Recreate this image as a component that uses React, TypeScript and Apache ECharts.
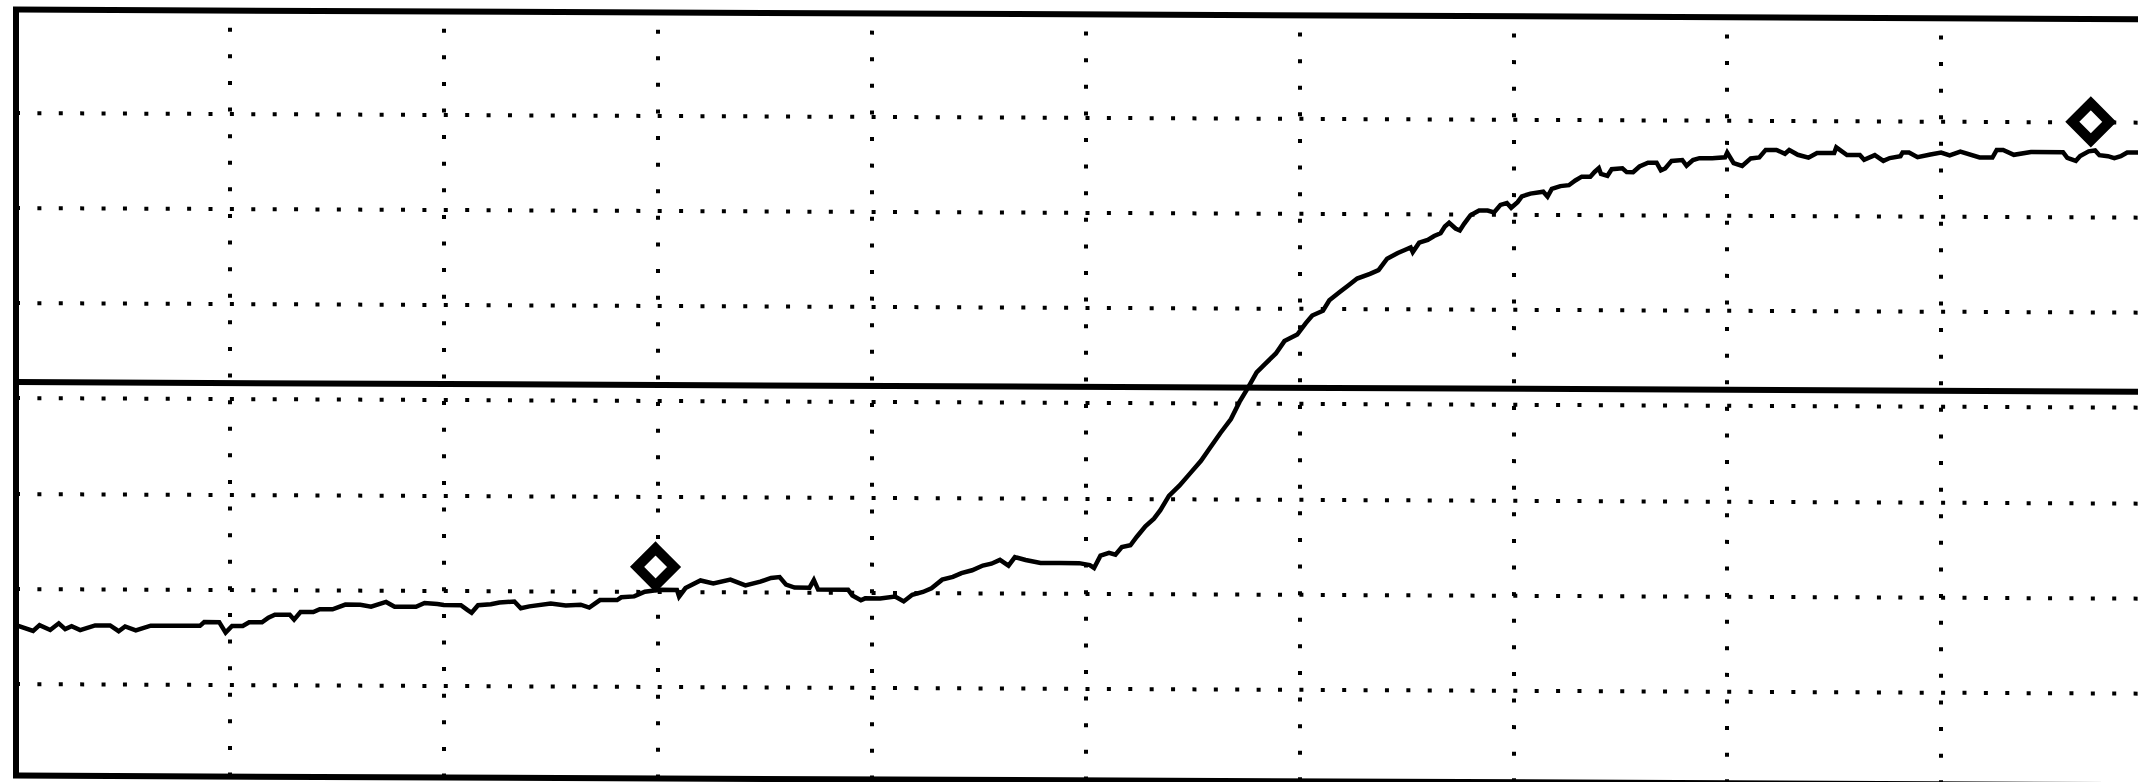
import React, { useEffect, useRef } from "react";
import * as echarts from "echarts";

// Time in screen divisions, level in vertical divisions (dotted grid lines at integers)
const traceTime = [
  0.0, 0.08, 0.11, 0.16, 0.2, 0.23, 0.26, 0.3, 0.37, 0.44, 0.48, 0.51, 0.56, 0.63, 0.86, 0.88, 0.95, 0.98,
  1.01, 1.06, 1.09, 1.15, 1.18, 1.21, 1.28, 1.3, 1.33, 1.39, 1.42, 1.48, 1.54, 1.61, 1.66, 1.73, 1.77,
  1.87, 1.91, 1.97, 2.0, 2.08, 2.11, 2.13, 2.16, 2.22, 2.26, 2.33, 2.36, 2.4, 2.5, 2.57, 2.64, 2.68,
  2.73, 2.81, 2.83, 2.89, 2.94, 3.01, 3.09, 3.1, 3.13, 3.2, 3.26, 3.34, 3.41, 3.48, 3.53, 3.57, 3.6,
  3.64, 3.71, 3.73, 3.75, 3.89, 3.91, 3.95, 3.97, 4.04, 4.11, 4.15, 4.19, 4.24, 4.28, 4.33, 4.38, 4.42,
  4.47, 4.52, 4.56, 4.6, 4.64, 4.67, 4.72, 4.79, 4.88, 4.97, 5.02, 5.04, 5.07, 5.11, 5.14, 5.17, 5.21,
  5.24, 5.28, 5.32, 5.35, 5.39, 5.44, 5.49, 5.54, 5.58, 5.63, 5.68, 5.72, 5.76, 5.8, 5.84, 5.89, 5.93,
  5.99, 6.03, 6.06, 6.11, 6.14, 6.19, 6.23, 6.27, 6.33, 6.37, 6.41, 6.46, 6.49, 6.52, 6.53, 6.56, 6.6,
  6.63, 6.66, 6.68, 6.7, 6.73, 6.75, 6.77, 6.8, 6.84, 6.88, 6.91, 6.94, 6.97, 6.99, 7.02, 7.04, 7.08,
  7.14, 7.16, 7.18, 7.22, 7.26, 7.29, 7.32, 7.36, 7.38, 7.4, 7.41, 7.44, 7.46, 7.51, 7.53, 7.56, 7.59,
  7.63, 7.67, 7.69, 7.71, 7.74, 7.79, 7.81, 7.84, 7.87, 7.93, 7.99, 8.0, 8.03, 8.07, 8.11, 8.15, 8.18,
  8.23, 8.27, 8.29, 8.33, 8.38, 8.42, 8.5, 8.51, 8.56, 8.62, 8.64, 8.69, 8.73, 8.76, 8.81, 8.82, 8.85,
  8.89, 8.95, 9.0, 9.04, 9.09, 9.18, 9.24, 9.26, 9.29, 9.34, 9.42, 9.57, 9.59, 9.63, 9.65, 9.69, 9.72,
  9.74, 9.78, 9.81, 9.84, 9.87, 9.92, 10.0,
];
const traceLevel = [
  -2.38, -2.44, -2.38, -2.43, -2.36, -2.42, -2.39, -2.43, -2.38, -2.38, -2.44, -2.39, -2.43, -2.38, -2.38,
  -2.34, -2.34, -2.45, -2.38, -2.38, -2.34, -2.34, -2.29, -2.26, -2.26, -2.31, -2.23, -2.23, -2.2, -2.2,
  -2.15, -2.15, -2.17, -2.12, -2.17, -2.17, -2.13, -2.14, -2.15, -2.15, -2.2, -2.23, -2.15, -2.14, -2.12,
  -2.11, -2.18, -2.16, -2.13, -2.15, -2.14, -2.17, -2.09, -2.09, -2.06, -2.05, -2.0, -1.98, -1.98, -2.05,
  -1.96, -1.88, -1.91, -1.87, -1.93, -1.89, -1.85, -1.84, -1.92, -1.95, -1.95, -1.87, -1.97, -1.97, -2.03,
  -2.08, -2.06, -2.06, -2.04, -2.09, -2.02, -1.99, -1.95, -1.86, -1.83, -1.79, -1.76, -1.71, -1.69, -1.65,
  -1.71, -1.62, -1.65, -1.68, -1.68, -1.68, -1.7, -1.73, -1.6, -1.57, -1.59, -1.51, -1.49, -1.4, -1.29,
  -1.21, -1.12, -0.97, -0.86, -0.73, -0.6, -0.47, -0.31, -0.16, 0.02, 0.17, 0.33, 0.42, 0.53, 0.66, 0.73,
  0.85, 0.93, 0.98, 1.09, 1.18, 1.25, 1.32, 1.37, 1.41, 1.53, 1.59, 1.62, 1.65, 1.6, 1.7, 1.73, 1.77, 1.8,
  1.87, 1.91, 1.85, 1.83, 1.9, 1.99, 2.04, 2.04, 2.02, 2.1, 2.12, 2.07, 2.13, 2.19, 2.22, 2.24, 2.19, 2.27,
  2.3, 2.31, 2.36, 2.4, 2.4, 2.45, 2.49, 2.43, 2.41, 2.48, 2.49, 2.45, 2.45, 2.51, 2.55, 2.55, 2.47, 2.49,
  2.57, 2.58, 2.52, 2.58, 2.6, 2.6, 2.61, 2.66, 2.55, 2.52, 2.6, 2.61, 2.69, 2.69, 2.65, 2.69, 2.64, 2.61,
  2.66, 2.66, 2.72, 2.64, 2.64, 2.59, 2.64, 2.58, 2.61, 2.63, 2.67, 2.67, 2.62, 2.65, 2.67, 2.64, 2.68,
  2.62, 2.62, 2.7, 2.7, 2.65, 2.68, 2.68, 2.62, 2.59, 2.64, 2.69, 2.7, 2.65, 2.64, 2.62, 2.64, 2.68, 2.68,
  2.68,
];
const markerTime = [2.99, 9.7];
const markerLevel = [-1.74, 3.0];
const gridTimes = [1, 2, 3, 4, 5, 6, 7, 8, 9];
const gridLevels = [-3, -2, -1, 0, 1, 2, 3];
const referenceLevel = 0.17;
const timeRange = [0, 10];
const levelRange = [-3.96, 4.08];

export default function App() {
  const ref = useRef<HTMLDivElement>(null);

  useEffect(() => {
    if (!ref.current) return;
    const chart = echarts.init(ref.current, undefined, { renderer: "svg" });
    const hDots = { color: "#000", width: 4, type: [4, 17.39], cap: "butt" };
    const vDots = { color: "#000", width: 4, type: [4, 22.6], cap: "butt" };
    const markLineData: any[] = [
      ...gridLevels.map((v) => ({ yAxis: v, lineStyle: hDots })),
      ...gridTimes.map((t) => ({ xAxis: t, lineStyle: vDots })),
      { yAxis: referenceLevel, lineStyle: { color: "#000", width: 6, type: "solid" } },
    ];
    chart.setOption({
      animation: false,
      backgroundColor: "#fff",
      grid: {
        left: 16,
        top: 9.5,
        width: 2139,
        height: 766,
        show: true,
        borderColor: "#000",
        borderWidth: 6,
        backgroundColor: "#fff",
        containLabel: false,
      },
      xAxis: {
        type: "value",
        min: timeRange[0],
        max: timeRange[1],
        show: false,
        splitLine: { show: false },
      },
      yAxis: {
        type: "value",
        min: levelRange[0],
        max: levelRange[1],
        show: false,
        splitLine: { show: false },
      },
      series: [
        {
          type: "line",
          name: "trace",
          z: 3,
          silent: true,
          symbol: "none",
          data: traceTime.map((t, i) => [t, traceLevel[i]]),
          lineStyle: { color: "#000", width: 4.5, join: "miter" },
          markLine: {
            silent: true,
            z: 1,
            symbol: ["none", "none"],
            label: { show: false },
            animation: false,
            data: markLineData,
          },
        },
        {
          type: "scatter",
          name: "markers",
          z: 5,
          silent: true,
          symbol: "diamond",
          symbolSize: 37,
          data: markerTime.map((t, i) => [t, markerLevel[i]]),
          itemStyle: { color: "#fff", borderColor: "#000", borderWidth: 10, opacity: 1 },
        },
      ],
    });
    return () => chart.dispose();
  }, []);

  return (
    <div
      style={{
        position: "fixed",
        left: 0,
        top: 0,
        width: 2138,
        height: 782,
        overflow: "hidden",
        background: "#fff",
      }}
    >
      <div
        ref={ref}
        style={{
          width: 2180,
          height: 782,
          transform: "skewY(0.258deg)",
          transformOrigin: "0 0",
        }}
      />
    </div>
  );
}
